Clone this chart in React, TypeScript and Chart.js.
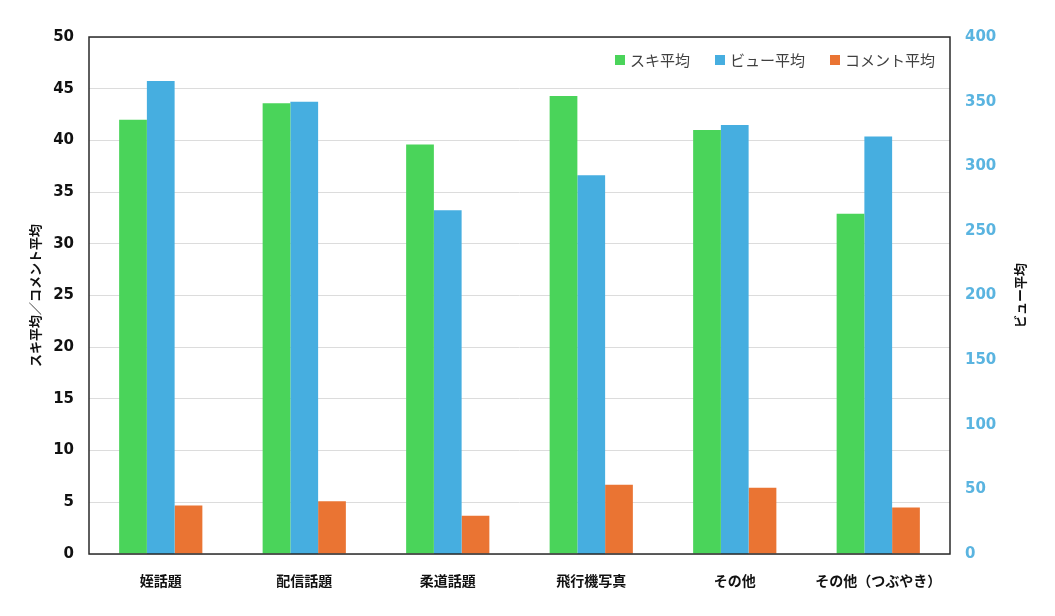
import React, { useEffect, useRef } from 'react'
import Chart from 'chart.js/auto';

// categories and averages
const categories = ['姪話題', '配信話題', '柔道話題', '飛行機写真', 'その他', 'その他（つぶやき）'];
const sukiAvg = [42.0, 43.6, 39.6, 44.3, 41.0, 32.9];
const viewAvg = [366, 350, 266, 293, 332, 323];
const commentAvg = [4.7, 5.1, 3.7, 6.7, 6.4, 4.5];

const seriesNames = ['スキ平均', 'ビュー平均', 'コメント平均'];
const leftTitle = 'スキ平均／コメント平均';
const rightTitle = 'ビュー平均';

const GREEN = '#4ad45a';
const BLUE = '#46aee0';
const ORANGE = '#ea7433';

const JP = '"Noto Sans CJK JP", "Noto Sans", sans-serif';
const NUM = '"DejaVu Sans", sans-serif';

// box around the plot area, legend inside top-right, right axis title (reads bottom to top)
const extras = {
  id: 'extras',
  afterDraw(chart: Chart) {
    const { ctx, chartArea } = chart;
    ctx.save();
    ctx.strokeStyle = '#2a2a2a';
    ctx.lineWidth = 1.5;
    ctx.strokeRect(chartArea.left, chartArea.top, chartArea.right - chartArea.left, chartArea.bottom - chartArea.top);

    // legend
    ctx.font = '15px ' + JP;
    ctx.textBaseline = 'middle';
    ctx.textAlign = 'left';
    const box = 10;
    const gapText = 5;
    const gapItem = 25;
    const y = chartArea.top + 23;
    let x = chartArea.right - 15;
    const items = chart.data.datasets.map((ds) => ({
      label: ds.label as string,
      color: ds.backgroundColor as string,
    }));
    for (let i = items.length - 1; i >= 0; i--) {
      const w = ctx.measureText(items[i].label).width;
      const textX = x - w;
      const boxX = textX - gapText - box;
      ctx.fillStyle = items[i].color;
      ctx.fillRect(boxX, y - box / 2, box, box);
      ctx.fillStyle = '#404040';
      ctx.fillText(items[i].label, textX, y);
      x = boxX - gapItem;
    }

    // right title
    ctx.translate(chart.width - 35, (chartArea.top + chartArea.bottom) / 2);
    ctx.rotate(-Math.PI / 2);
    ctx.textAlign = 'center';
    ctx.fillStyle = '#111';
    ctx.font = 'bold 13px ' + JP;
    ctx.fillText(rightTitle, 0, 0);
    ctx.restore();
  },
};

const App: React.FC = () => {
  const chartRef = useRef<HTMLCanvasElement | null>(null);
  const chartInstanceRef = useRef<Chart | null>(null);

  useEffect(() => {
    document.body.style.margin = '0';
    if (chartInstanceRef.current) {
      chartInstanceRef.current.destroy();
    }
    const ctx = chartRef.current?.getContext('2d');
    if (ctx) {
      chartInstanceRef.current = new Chart(ctx, {
        type: 'bar',
        data: {
          labels: categories,
          datasets: [
            { label: seriesNames[0], data: sukiAvg, backgroundColor: GREEN, yAxisID: 'y' },
            { label: seriesNames[1], data: viewAvg, backgroundColor: BLUE, yAxisID: 'y1' },
            { label: seriesNames[2], data: commentAvg, backgroundColor: ORANGE, yAxisID: 'y' },
          ],
        },
        options: {
          responsive: true,
          maintainAspectRatio: false,
          animation: false,
          datasets: {
            bar: { categoryPercentage: 0.58, barPercentage: 1 },
          },
          layout: { padding: { top: 37, left: 0, right: 0, bottom: 0 } },
          plugins: {
            legend: { display: false },
            tooltip: { enabled: false },
          },
          scales: {
            x: {
              grid: { display: false, drawTicks: false },
              border: { display: false },
              ticks: { color: '#111', padding: 18, font: { family: JP, size: 14, weight: 'bold' } },
              afterFit(scale: any) { scale.height = 62; },
            },
            y: {
              position: 'left',
              min: 0,
              max: 50,
              ticks: { stepSize: 5, color: '#111', padding: 15, font: { family: NUM, size: 15, weight: 'bold' } },
              grid: { color: '#dcdcdc', drawTicks: false },
              border: { display: false },
              title: {
                display: true,
                text: leftTitle,
                color: '#111',
                padding: { top: 27, bottom: 0 },
                font: { family: JP, size: 13, weight: 'bold' },
              },
              afterFit(scale: any) { scale.width = 89; },
            },
            y1: {
              position: 'right',
              min: 0,
              max: 400,
              ticks: { stepSize: 50, color: '#5ab4e0', padding: 15, font: { family: NUM, size: 15, weight: 'bold' } },
              grid: { display: false, drawTicks: false },
              border: { display: false },
              afterFit(scale: any) { scale.width = 105; },
            },
          },
        },
        plugins: [extras],
      });
    }
    return () => {
      if (chartInstanceRef.current) {
        chartInstanceRef.current.destroy();
        chartInstanceRef.current = null;
      }
    };
  }, []);

  return (
    <div style={{ width: '1055px', height: '616px', background: '#fff' }}>
      <canvas ref={chartRef}></canvas>
    </div>
  );
};

export default App;
